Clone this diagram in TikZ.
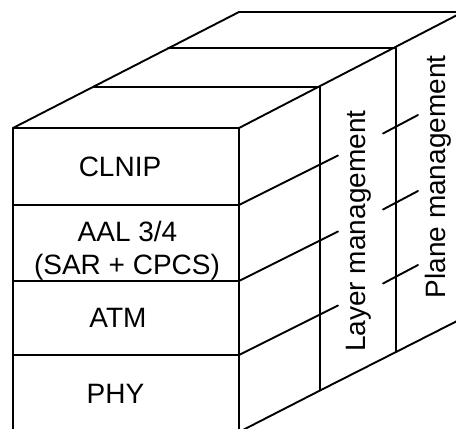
\documentclass[tikz,border=0pt]{standalone}
\usepackage{fontspec}
\setmainfont{Liberation Sans}
\begin{document}
\begin{tikzpicture}[x=1pt,y=-1pt,
  front/.style={line width=2.3pt,line cap=round,line join=round},
  edge/.style={line width=1.9pt,line cap=round,line join=round},
  lbl/.style={font=\fontsize{28}{31}\selectfont,inner sep=0pt,anchor=base},
  vlbl/.style={font=\fontsize{28}{31}\selectfont,inner sep=0pt,anchor=base west,rotate=90}]
\useasboundingbox (0,0) rectangle (456,429);
\clip (0,0) rectangle (456,429);
% corners
\coordinate (ftl) at (13,128);
\coordinate (ftr) at (239,128);
\coordinate (fbl) at (13,432);
\coordinate (fbr) at (239,432);
\coordinate (t1l) at (94,87);
\coordinate (t1r) at (320,87);
\coordinate (t2l) at (168,48);
\coordinate (t2r) at (396,48);
\coordinate (tbl) at (239,12);
\coordinate (tbr) at (463,12);
\coordinate (b1) at (320,390.5);
\coordinate (b2) at (396,352);
\coordinate (b3) at (463,318);
% top face
\draw[edge] (ftl) -- (tbl) -- (tbr) -- (ftr);
\draw[edge] (t1l) -- (t1r);
\draw[edge] (t2l) -- (t2r);
% side verticals and bottom
\draw[edge] (t1r) -- (b1);
\draw[edge] (t2r) -- (b2);
\draw[edge] (fbr) -- (b1) -- (b2) -- (b3);
% front face
\draw[front] (fbl) -- (ftl) -- (ftr) -- (fbr);
\coordinate (l1) at (239,205);
\coordinate (l2) at (239,281);
\coordinate (l3) at (239,355);
\draw[front] (13,205) -- (l1);
\draw[front] (13,281) -- (l2);
\draw[front] (13,355) -- (l3);
% layer boundary lines on the side
\coordinate (e1) at (338,155.5);
\coordinate (e2) at (338,231.5);
\coordinate (e3) at (338,305.5);
\draw[edge] (l1) -- (e1);
\draw[edge] (l2) -- (e2);
\draw[edge] (l3) -- (e3);
\coordinate (p1a) at (383,133.5);
\coordinate (p1b) at (418,115);
\coordinate (p2a) at (383,209.5);
\coordinate (p2b) at (418,191);
\coordinate (p3a) at (383,283.5);
\coordinate (p3b) at (418,265);
\draw[edge] (p1a) -- (p1b);
\draw[edge] (p2a) -- (p2b);
\draw[edge] (p3a) -- (p3b);
% texts
\node[lbl] (clnip) at (120,176) {CLNIP};
\node[lbl] (aal) at (127.5,241.7) {AAL 3/4};
\node[lbl] (sar) at (127,274) {(SAR + CPCS)};
\node[lbl] (atm) at (118,327.7) {ATM};
\node[lbl] (phy) at (115.5,403) {PHY};
\node[vlbl] (layer) at (365,352) {Layer management};
\node[vlbl] (plane) at (445,298.5) {Plane management};
\end{tikzpicture}
\end{document}
